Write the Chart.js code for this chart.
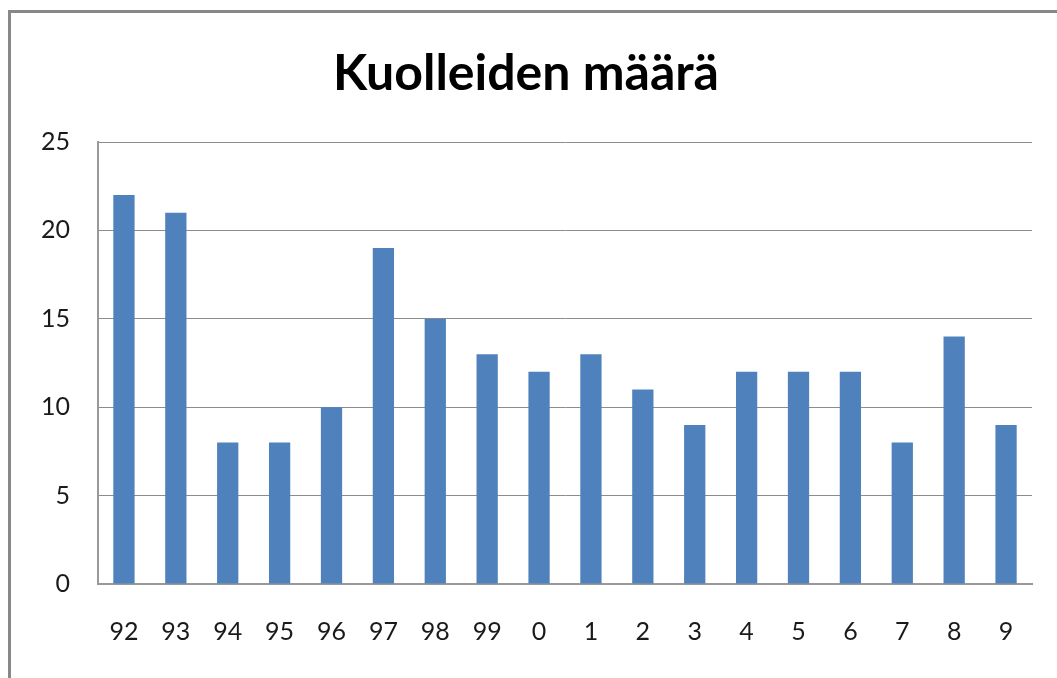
<!DOCTYPE html>
<html>
<head>
<meta charset="utf-8">
<script src="https://cdn.jsdelivr.net/npm/chart.js@4"></script>
<style>
  html, body { margin: 0; padding: 0; background: #fff; }
  #wrap { width: 1057px; height: 678px; }
</style>
</head>
<body>
<div id="wrap"><canvas id="myCanvas"></canvas></div>
<script>
// vuodet ja kuolleiden määrä
const vuodet = ['92', '93', '94', '95', '96', '97', '98', '99', '0', '1', '2', '3', '4', '5', '6', '7', '8', '9'];
const kuolleet = [22, 21, 8, 8, 10, 19, 15, 13, 12, 13, 11, 9, 12, 12, 12, 8, 14, 9];
const yTicks = [0, 5, 10, 15, 20, 25];

// harmaa kehys vasemmalle ja ylös
const kehys = {
   id: 'kehys',
   beforeDraw(chart) {
      const c = chart.ctx;
      c.save();
      c.fillStyle = '#fff';
      c.fillRect(0, 0, chart.width, chart.height);
      c.strokeStyle = '#888';
      c.lineWidth = 3;
      c.beginPath();
      c.moveTo(9.5, chart.height);
      c.lineTo(9.5, 11.5);
      c.lineTo(chart.width, 11.5);
      c.stroke();
      c.restore();
   }
};

const ctx = document.getElementById('myCanvas').getContext('2d');
const myChart = new Chart(ctx, {
   type: 'bar',
   data: {
      labels: vuodet,
      datasets: [{
         label: 'Kuolleiden määrä',
         data: kuolleet,
         backgroundColor: '#4F81BD',
         borderColor: '#4F81BD',
         borderWidth: 0,
         barPercentage: 0.41,
         categoryPercentage: 1.0
      }]
   },
   options: {
      responsive: true,
      maintainAspectRatio: false,
      animation: false,
      layout: { padding: { left: 20, right: 25, top: 0, bottom: 0 } },
      plugins: {
         legend: { display: false },
         tooltip: { enabled: false },
         title: {
            display: true,
            text: 'Kuolleiden määrä',
            color: '#000',
            font: { family: 'Lato', size: 50, weight: 'bold' },
            padding: { top: 44, bottom: 38 }
         }
      },
      scales: {
         x: {
            grid: { display: false, drawTicks: false },
            border: { color: '#999', width: 2 },
            ticks: {
               color: '#1a1a1a',
               font: { family: 'Lato', size: 25 },
               padding: 33,
               maxRotation: 0,
               autoSkip: false
            },
            afterFit(scale) { scale.height = 94; }
         },
         y: {
            min: 0,
            max: 25,
            afterBuildTicks(scale) { scale.ticks = yTicks.map(v => ({ value: v })); },
            grid: { color: '#8c8c8c', lineWidth: 1, drawTicks: false },
            border: { color: '#999', width: 2 },
            ticks: {
               color: '#1a1a1a',
               font: { family: 'Lato', size: 25 },
               padding: 28
            },
            afterFit(scale) { scale.width = 78; }
         }
      }
   },
   plugins: [kehys]
});
</script>
</body>
</html>
